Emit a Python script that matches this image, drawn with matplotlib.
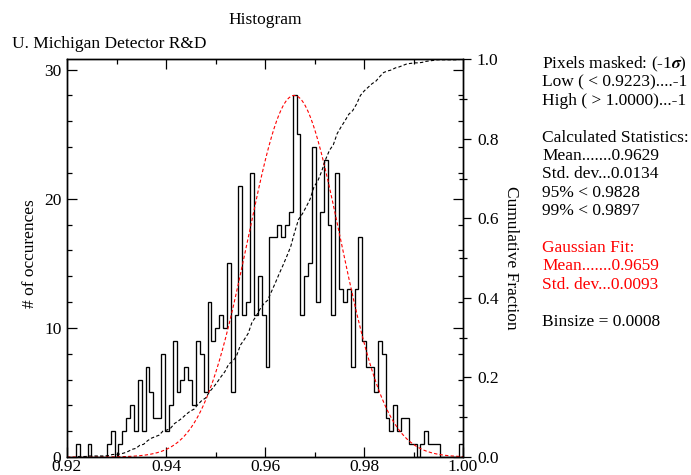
import numpy as np
import matplotlib
matplotlib.use("Agg")
import matplotlib.pyplot as plt
from matplotlib.ticker import MultipleLocator, FormatStrFormatter

# histogram counts per bin
bin_start = 0.9218
bin_width = 0.000782
counts = [1, 0, 0, 1, 0, 0, 0, 0, 1, 2,
          0, 1, 2, 3, 4, 2, 6, 2, 7, 5,
          3, 3, 8, 2, 4, 9, 5, 6, 7, 6,
          4, 9, 8, 5, 12, 9, 10, 11, 10, 15,
          5, 11, 21, 11, 12, 22, 11, 14, 11, 7,
          17, 17, 18, 17, 18, 19, 28, 25, 11, 14,
          15, 24, 12, 19, 23, 18, 11, 22, 13, 12,
          13, 7, 13, 17, 9, 7, 7, 5, 9, 8,
          3, 2, 4, 2, 3, 3, 1, 1, 0, 1,
          2, 1, 1, 1, 0, 0, 0, 0, 0, 1]

# gaussian fit
fit_amp = 28.0
fit_mean = 0.9659
fit_std = 0.0093

stats_lines = [
    ("Pixels masked: (-1$\\boldsymbol{\\sigma}$)", "black"),
    ("Low ( < 0.9223)....-1", "black"),
    ("High ( > 1.0000)...-1", "black"),
    ("", "black"),
    ("Calculated Statistics:", "black"),
    ("Mean.......0.9629", "black"),
    ("Std. dev...0.0134", "black"),
    ("95% < 0.9828", "black"),
    ("99% < 0.9897", "black"),
    ("", "black"),
    ("Gaussian Fit:", "red"),
    ("Mean.......0.9659", "red"),
    ("Std. dev...0.0093", "red"),
    ("", "black"),
    ("Binsize = 0.0008", "black"),
]

plt.rcParams['font.family'] = ['Liberation Serif', 'DejaVu Serif']
plt.rcParams['mathtext.fontset'] = 'stix'
plt.rcParams['font.size'] = 12.5

W, H = 691, 475


def px(x, y):
    # pixel position -> figure fraction
    return x / W, 1 - y / H


fig = plt.figure(figsize=(W / 100, H / 100), dpi=100)
ax = fig.add_axes([67 / W, 1 - 457 / H, (463 - 67) / W, (457 - 59.3) / H])

counts = np.array(counts)
edges = bin_start + bin_width * np.arange(len(counts) + 1)
ax.stairs(counts, edges, color='black', lw=0.95)

xg = np.linspace(0.92, 1.0, 500)
ax.plot(xg, fit_amp * np.exp(-(xg - fit_mean) ** 2 / (2 * fit_std ** 2)),
        color='red', lw=0.8, dashes=(3, 2))

ax.set_xlim(0.92, 1.0)
ax.set_ylim(0, fit_amp * 1.1)
ax.xaxis.set_major_locator(MultipleLocator(0.02))
ax.xaxis.set_minor_locator(MultipleLocator(0.01))
ax.xaxis.set_major_formatter(FormatStrFormatter('%.2f'))
ax.yaxis.set_major_locator(MultipleLocator(10))
ax.yaxis.set_minor_locator(MultipleLocator(2))

# cumulative fraction on the right axis
ax2 = ax.twinx()
centers = (edges[:-1] + edges[1:]) / 2
ax2.plot(centers, np.cumsum(counts) / counts.sum(), color='black', lw=0.8, dashes=(3, 2))
ax2.set_ylim(0, 1)
ax2.yaxis.set_major_locator(MultipleLocator(0.2))
ax2.yaxis.set_minor_locator(MultipleLocator(0.1))
ax2.yaxis.set_major_formatter(FormatStrFormatter('%.1f'))

ax.tick_params(which='both', direction='in', top=True, right=True, labelsize=12.5, width=0.9)
ax.tick_params(which='major', length=7)
ax.tick_params(which='minor', length=3.5)
ax.tick_params(axis='x', pad=1.5)
ax.tick_params(axis='y', pad=4)
ax2.tick_params(which='major', direction='out', length=6, width=0.9, labelsize=12.5, pad=4)
ax2.tick_params(which='minor', direction='inout', length=6, width=0.9)
for a in (ax, ax2):
    for s in a.spines.values():
        s.set_linewidth(1.0)

fig.text(*px(265, 20), 'Histogram', ha='center', va='center')
fig.text(*px(12, 44), 'U. Michigan Detector R&D', ha='left', va='center')
fig.text(*px(30, 254), '# of occurences', rotation=90, ha='center', va='center')
fig.text(*px(511, 258), 'Cumulative Fraction', rotation=270, ha='center', va='center')

for i, (line, col) in enumerate(stats_lines):
    if line:
        fig.text(*px(542, 64 + 18.4 * i), line, color=col, ha='left', va='center')

fig.savefig('out.png', dpi=100)
